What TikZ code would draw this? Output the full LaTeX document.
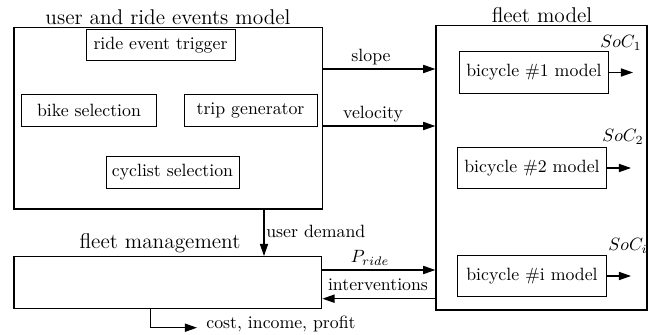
\documentclass[tikz,border=0pt]{standalone}
\usetikzlibrary{arrows.meta}
\begin{document}
\begin{tikzpicture}[x=0.5625pt,y=-0.5625pt,
  outer/.style={draw,line width=0.75pt,inner sep=0pt},
  inner/.style={draw,line width=0.55pt,inner sep=0pt,font=\normalsize},
  title/.style={font=\large,inner sep=0pt,anchor=base},
  lbl/.style={font=\normalsize,inner sep=0pt,anchor=base},
  conn/.style={line width=0.6pt,-{Triangle[length=6.8pt,width=4.6pt]}}]
\useasboundingbox (0,0) rectangle (656,335);
% main boxes
\node[outer,minimum width=173.6pt,minimum height=102.2pt] (urm) at (168.3,118.2) {};
\node[outer,minimum width=118.7pt,minimum height=159.9pt] (fm) at (541.5,167.9) {};
\node[outer,minimum width=173.1pt,minimum height=29.3pt] (fmg) at (167.9,282.7) {};
% titles
\node[title] (turm) at (168,25) {user and ride events model};
\node[title] (tfm) at (542,23) {fleet model};
\node[title] (tfmg) at (160,249) {fleet management};
% inner boxes
\node[inner,minimum width=83.8pt,minimum height=16.9pt] (ret) at (160.5,45) {ride event trigger};
\node[inner,minimum width=75.4pt,minimum height=18pt] (bs) at (89,110) {bike selection};
\node[inner,minimum width=74.8pt,minimum height=18pt] (tg) at (250.5,110) {trip generator};
\node[inner,minimum width=74.8pt,minimum height=18pt] (cs) at (172.5,172) {cyclist selection};
\node[inner,minimum width=83.3pt,minimum height=23.1pt] (b1) at (534,72.5) {bicycle \#1 model};
\node[inner,minimum width=83.3pt,minimum height=23.6pt] (b2) at (532,168) {bicycle \#2 model};
\node[inner,minimum width=83.3pt,minimum height=23.6pt] (bi) at (532,276) {bicycle \#i model};
% SoC labels
\node[lbl,anchor=base east] (s1) at (642,48) {$SoC_1$};
\node[lbl,anchor=base east] (s2) at (644,142) {$SoC_2$};
\node[lbl,anchor=base east] (si) at (648,251) {$SoC_i$};
% output arrows
\coordinate (o1) at (633,72.5);
\coordinate (o2) at (631,168);
\coordinate (oi) at (631,276);
\draw[conn] (b1.east) -- (o1);
\draw[conn] (b2.east) -- (o2);
\draw[conn] (bi.east) -- (oi);
% slope / velocity
\draw[conn] (urm.east |- 0,69) -- (fm.west |- 0,69);
\node[lbl] (lslope) at (371,62) {slope};
\draw[conn] (urm.east |- 0,126) -- (fm.west |- 0,126);
\node[lbl] (lvel) at (373,119) {velocity};
% P_ride / interventions
\draw[conn] (fmg.east |- 0,270) -- (fm.west |- 0,270);
\node[lbl] (lpr) at (370,263) {$P_{ride}$};
\draw[conn] (fm.west |- 0,298.7) -- (fmg.east |- 0,298.7);
\node[lbl] (lint) at (378,291) {interventions};
% user demand
\draw[conn] (urm.south -| 264,0) -- (fmg.north -| 264,0);
\node[lbl,anchor=base west] (lud) at (266,238) {user demand};
% cost
\coordinate (co) at (197,327.7);
\draw[conn] (fmg.south -| 150.7,0) |- (co);
\node[lbl,anchor=base west] (lcost) at (206,329) {cost, income, profit};
\end{tikzpicture}
\end{document}
